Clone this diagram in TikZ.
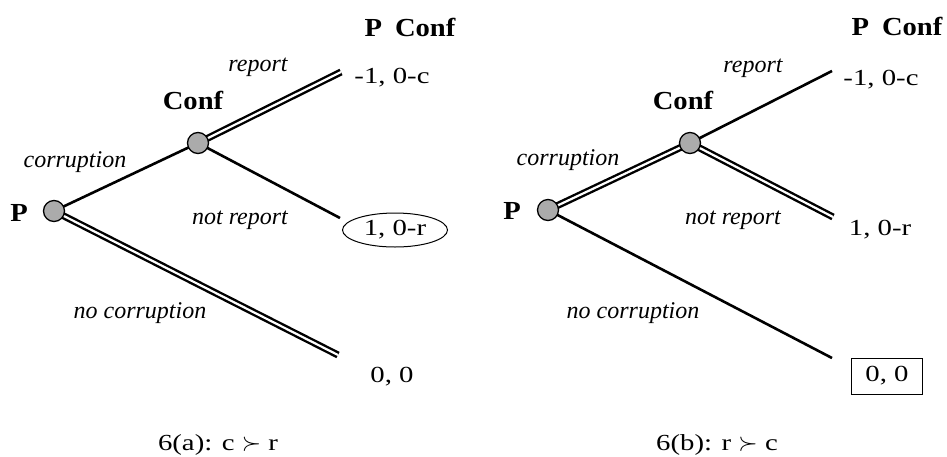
\documentclass[tikz,border=0pt]{standalone}
\usepackage{fontspec}
\setmainfont{Liberation Serif}
\newfontfamily\payfont[FakeStretch=1.25]{Liberation Serif}
\newfontfamily\headfont[FakeStretch=1.1]{Liberation Serif}
\usetikzlibrary{shapes.geometric}
\begin{document}
\begin{tikzpicture}[x=1pt,y=-1pt,
  dec/.style={circle,draw=black,line width=1.3pt,fill=black!33,minimum size=21pt,inner sep=0pt},
  br/.style={line width=2.6pt,line cap=butt},
  dbl/.style={double=white,double distance=2.2pt,line width=2.4pt,line cap=butt},
  pl/.style={font=\payfont\fontsize{23}{27}\selectfont,inner sep=0pt},
  lab/.style={font=\fontsize{24}{28}\selectfont\itshape,inner sep=0pt},
  bl/.style={font=\headfont\fontsize{26}{30}\selectfont\bfseries,inner sep=0pt},
  captxt/.style={font=\payfont\fontsize{23}{27}\selectfont,inner sep=0pt}]
\useasboundingbox (0,0) rectangle (947,456);
% ---------- left tree ----------
\coordinate (aPc) at (54,211);
\coordinate (aCc) at (198,143);
\coordinate (aR) at (341,72);
\coordinate (aN) at (340,218);
\coordinate (aZ) at (338,355);
\draw[br] (aPc) -- (aCc);
\draw[dbl] (aCc) -- (aR);
\draw[br] (aCc) -- (aN);
\draw[dbl] (aPc) -- (aZ);
\node[dec] (aP) at (aPc) {};
\node[dec] (aC) at (aCc) {};
\node[bl] (aPl) at (19,213) {P};
\node[bl] (aCl) at (193,100) {Conf};
\node[bl] (aH) at (410,27) {P\hspace{0.5em}Conf};
\node[lab] (ar) at (258,67) {report};
\node[lab] (anr) at (240,220) {not report};
\node[lab] (ac) at (75,162) {corruption};
\node[lab] (anc) at (140,313) {no corruption};
\node[pl] (a1) at (392,78) {-1, 0-c};
\node[pl,draw,ellipse,line width=1pt,minimum width=105pt,minimum height=34pt,inner sep=0pt] (a2) at (395,230) {1, 0-r};
\node[pl] (a3) at (392,377) {0, 0};
\node[captxt] (acap) at (218,445) {6(a): c $\succ$ r};
% ---------- right tree ----------
\coordinate (bPc) at (548,210);
\coordinate (bCc) at (690,143);
\coordinate (bR) at (832,71);
\coordinate (bN) at (833,217);
\coordinate (bZ) at (832,358);
\draw[dbl] (bPc) -- (bCc);
\draw[br] (bCc) -- (bR);
\draw[dbl] (bCc) -- (bN);
\draw[br] (bPc) -- (bZ);
\node[dec] (bP) at (bPc) {};
\node[dec] (bC) at (bCc) {};
\node[bl] (bPl) at (512,211) {P};
\node[bl] (bCl) at (683,100) {Conf};
\node[bl] (bH) at (897,26) {P\hspace{0.5em}Conf};
\node[lab] (br) at (753,68) {report};
\node[lab] (bnr) at (733,220) {not report};
\node[lab] (bc) at (568,160) {corruption};
\node[lab] (bnc) at (633,313) {no corruption};
\node[pl] (b1) at (881,80) {-1, 0-c};
\node[pl] (b2) at (880,230) {1, 0-r};
\node[pl,draw,line width=1pt,minimum width=71pt,minimum height=36pt] (b3) at (887,376) {0, 0};
\node[captxt] (bcap) at (717,445) {6(b): r $\succ$ c};
\end{tikzpicture}
\end{document}
